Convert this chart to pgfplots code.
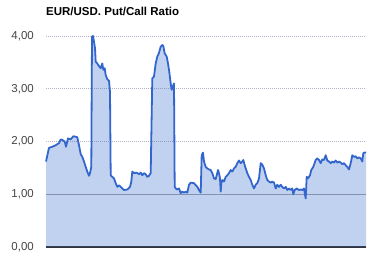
\documentclass[border=0pt]{standalone}
\usepackage{pgfplots}
\pgfplotsset{compat=1.18}
\usepackage{pgfplotstable}
\usepackage{fontspec}
\setmainfont{Liberation Sans}
\definecolor{lineblue}{RGB}{51,102,204}
\definecolor{gridc}{RGB}{185,175,195}
\definecolor{tickc}{RGB}{68,68,68}
\pgfplotstableread{
x y
46 1.62
49 1.88
52.3 1.90
55.7 1.93
59 1.97
60.7 2.04
62.3 2.03
64.7 2.00
66 1.90
68 2.06
70.7 2.04
73.3 2.10
75.7 2.09
77.3 2.08
79 1.93
80.7 1.76
82.3 1.71
84 1.62
85.7 1.52
87.3 1.43
89 1.35
90 1.40
91.3 1.52
92 3.99
93 4.00
94 3.89
95 3.77
95.7 3.51
97.3 3.48
99 3.43
100.7 3.39
102.3 3.48
103.3 3.36
104.7 3.39
105.7 3.26
107.3 3.18
109 3.15
110 2.94
110.7 1.36
112.3 1.33
114 1.30
115.7 1.21
117.3 1.14
119 1.17
120.7 1.14
122.3 1.11
124 1.08
127.3 1.09
130 1.14
131.3 1.24
132.3 1.43
134 1.40
136.7 1.41
139 1.38
140.7 1.41
142.3 1.36
144 1.40
145.7 1.38
147.3 1.33
149 1.35
150.7 1.40
152.3 3.20
154 3.23
155.7 3.48
157.3 3.61
159 3.68
160.7 3.80
162.3 3.83
163.3 3.81
164.7 3.67
166.7 3.61
168 3.48
169.3 3.32
170.7 3.10
171.7 2.98
172.7 3.04
174 3.10
174.7 1.14
176.7 1.09
179 1.11
180.7 1.02
182.3 1.05
184 1.03
185.7 1.05
187.3 1.03
189 1.18
190.7 1.22
194 1.21
197.3 1.14
199 1.08
200.7 1.03
201.7 1.74
203 1.79
204 1.62
205.7 1.52
207.3 1.49
209 1.47
210.7 1.46
212.3 1.40
214 1.30
215.7 1.29
216.7 1.36
218 1.46
219 1.40
220 1.30
220.7 1.05
221.3 1.21
222.3 1.27
224 1.24
225.7 1.33
227.3 1.36
229 1.40
230.7 1.46
232.3 1.43
234 1.49
235.7 1.52
237.3 1.59
239 1.64
240.7 1.59
242.3 1.62
243.3 1.65
244.7 1.55
245.7 1.49
247.3 1.40
249 1.33
250.7 1.27
252.3 1.18
254 1.11
255.7 1.18
257.3 1.21
259 1.30
260.7 1.59
262.3 1.56
264 1.49
265.7 1.36
267.3 1.27
269 1.24
270.7 1.22
272.3 1.24
274 1.22
275.7 1.11
277.3 1.18
279 1.14
280.7 1.18
282.3 1.14
284 1.11
285.7 1.14
287.3 1.08
289 1.11
290.7 1.08
292.3 1.11
293.3 1.00
294.7 1.08
296.7 1.11
299 1.08
300.7 1.09
302.3 1.08
304 1.11
305.7 0.92
306.7 1.33
308 1.30
310 1.36
311.3 1.46
313.3 1.52
315.7 1.65
317.3 1.68
319 1.65
320.7 1.59
322.3 1.66
324 1.65
325.7 1.74
327.3 1.64
329 1.62
330.7 1.59
332.3 1.62
334 1.60
335.7 1.64
337.3 1.60
339 1.62
340.7 1.60
342.3 1.57
344 1.59
345.7 1.55
347.3 1.52
349 1.47
350.7 1.59
352.3 1.74
354 1.71
355.7 1.72
357.3 1.68
359 1.70
360.7 1.68
362.3 1.62
363.3 1.78
364.7 1.79
366 1.79
}\ratio
\begin{document}
\begin{tikzpicture}
\path[use as bounding box] (0,0) rectangle (375bp,255bp);
\begin{axis}[
  at={(46bp,8bp)}, anchor=south west,
  scale only axis, width=320bp, height=226.8bp,
  xmin=46, xmax=366, ymin=0, ymax=4.3,
  axis x line*=bottom, axis y line*=left,
  separate axis lines,
  x axis line style={draw=black!80, line width=1.2bp},
  y axis line style={draw=none},
  xtick=\empty,
  ytick={0,1,2,3,4},
  yticklabels={{0,00},{1,00},{2,00},{3,00},{4,00}},
  extra y ticks={1},
  extra y tick labels={},
  extra y tick style={major grid style={draw=black!35, solid, line width=0.8bp}},
  major tick length=0pt,
  ymajorgrids,
  major grid style={draw=gridc, dash pattern=on 1bp off 1bp, line width=0.8bp},
  tick label style={font=\fontsize{11.5bp}{13bp}\selectfont, text=tickc, inner sep=0pt},
  yticklabel style={anchor=east, xshift=-12bp},
  clip=false,
]
\addplot[draw=none, fill=lineblue, fill opacity=0.3] table[x=x,y=y] {\ratio} \closedcycle;
\addplot[draw=lineblue, line width=1.8bp, line join=round, mark=none] table[x=x,y=y] {\ratio};
\end{axis}
\node[anchor=base west, inner sep=0pt, font=\fontsize{11.5bp}{13bp}\selectfont\bfseries] at (46bp,239.7bp) {EUR/USD. Put/Call Ratio};
\end{tikzpicture}
\end{document}
